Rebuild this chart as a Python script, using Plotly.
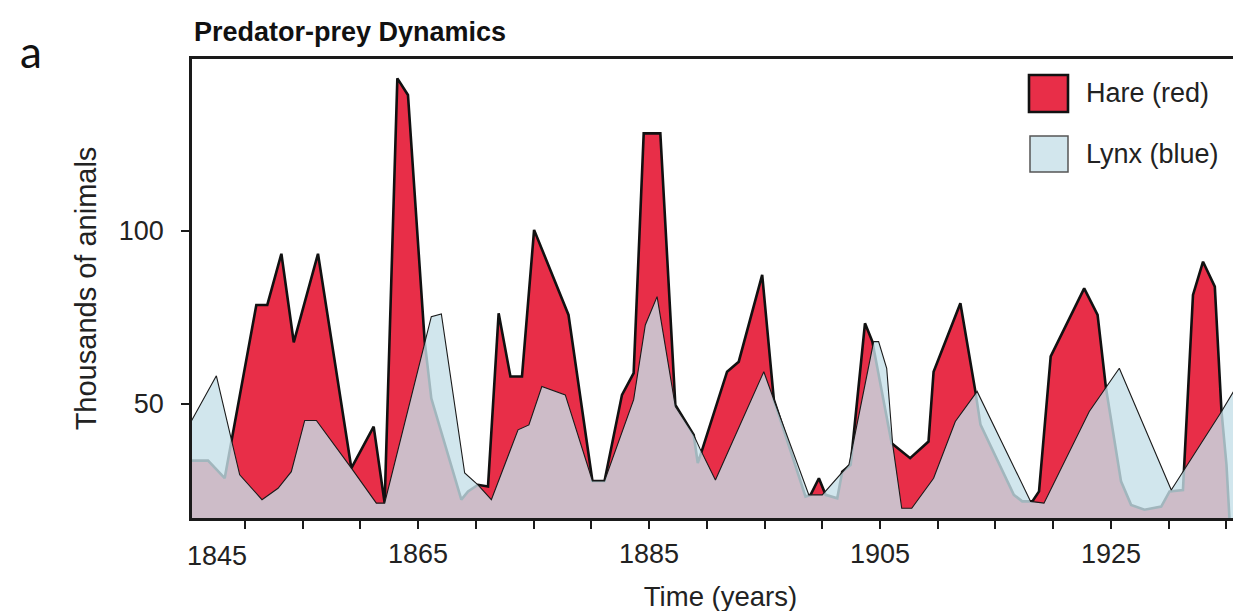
import plotly.graph_objects as go

# ---------------- data ----------------
hare_years = [1845.0, 1846.82, 1848.26, 1851.0, 1851.95, 1853.17, 1854.24, 1856.34,
              1859.23, 1861.16, 1862.11, 1863.21, 1864.13, 1865.58, 1866.15, 1868.75,
              1869.33, 1870.19, 1871.06, 1871.98, 1873.0, 1874.0, 1875.05, 1878.03,
              1880.1, 1881.15, 1882.66, 1883.67, 1884.54, 1885.98, 1887.28, 1888.87,
              1889.22, 1889.6, 1891.76, 1892.77, 1894.8, 1895.81, 1898.55, 1898.99,
              1899.71, 1900.29, 1901.3, 1901.73, 1902.46, 1903.7, 1904.34, 1906.01,
              1907.61, 1909.2, 1909.64, 1911.96, 1913.26, 1913.7, 1916.59, 1917.32,
              1918.19, 1918.77, 1919.78, 1922.68, 1923.84, 1924.57, 1925.87, 1926.74,
              1927.9, 1929.35, 1930.07, 1931.23, 1932.1, 1932.97, 1933.99, 1934.57,
              1935.0, 1935.29, 1937.5]
hare_values = [33.6, 33.6, 28.5, 78.6, 78.6, 93.4, 67.8, 93.4,
               31.4, 43.4, 21.3, 144.1, 139.3, 68.0, 51.6, 22.3,
               24.7, 26.6, 26.1, 76.2, 57.9, 57.9, 100.3, 75.7,
               27.7, 27.7, 52.6, 58.9, 128.2, 128.2, 49.7, 41.0,
               32.9, 36.7, 59.3, 62.2, 87.3, 51.2, 23.2, 23.7,
               28.5, 23.7, 22.7, 30.4, 32.4, 73.3, 68.0, 38.6,
               34.3, 39.1, 59.3, 79.1, 53.6, 44.0, 23.7, 21.8,
               21.8, 24.7, 63.7, 83.4, 75.7, 54.5, 27.6, 20.8,
               19.4, 20.3, 24.7, 25.1, 81.5, 91.1, 83.9, 47.8,
               32.4, 15.0, 15.0]

lynx_years = [1845.0, 1847.54, 1849.56, 1851.49, 1852.88, 1854.03, 1855.19, 1856.2,
              1859.23, 1861.39, 1862.11, 1866.15, 1867.02, 1869.04, 1870.19, 1871.35,
              1873.66, 1874.6, 1875.72, 1877.75, 1880.1, 1881.15, 1883.67, 1884.68,
              1885.7, 1887.28, 1888.87, 1889.39, 1890.75, 1894.94, 1895.81, 1898.84,
              1900.0, 1901.59, 1902.31, 1904.45, 1904.88, 1905.58, 1906.1, 1906.88,
              1907.75, 1909.64, 1911.52, 1913.41, 1918.04, 1919.2, 1923.12, 1925.72,
              1930.22, 1934.57, 1935.87, 1937.5]
lynx_values = [42.8, 58.1, 29.5, 22.3, 25.6, 30.4, 45.2, 45.2,
               31.4, 21.3, 21.3, 75.2, 76.0, 30.0, 26.6, 22.3,
               42.5, 43.9, 55.0, 52.6, 27.7, 27.7, 51.2, 72.8,
               81.0, 49.2, 41.0, 37.2, 28.0, 59.3, 51.2, 23.7,
               23.7, 29.5, 32.4, 68.0, 68.0, 60.3, 38.2, 19.8,
               19.8, 28.5, 44.9, 53.6, 21.8, 21.3, 47.8, 60.3,
               25.1, 47.8, 55.0, 47.7]

x_tick_years = list(range(1850, 1940, 5))
x_labelled_years = [1865, 1885, 1905, 1925]
x_tick_text = [str(y) if y in x_labelled_years else "" for y in x_tick_years]
first_label_text = "1845"
y_tick_values = [50, 100]
series_names = ["Hare (red)", "Lynx (blue)"]

# ---------------- styling / layout ----------------
W, H = 1241, 611
L, R, T, B = 184, 0, 51, 101
PW, PH = W - L - R, H - T - B


def px(x):
    return (x - L) / PW


def py(y):
    return (H - B - y) / PH


FONT = "Liberation Sans, Arial, Helvetica, sans-serif"
TXT = "#222222"
RED = "rgb(232,46,72)"
LYNX_FILL = "rgba(198,224,232,0.80)"
LYNX_SWATCH = "rgb(210,230,237)"

fig = go.Figure()
fig.add_trace(go.Scatter(
    x=hare_years, y=hare_values, mode="lines", name=series_names[0],
    fill="tozeroy", fillcolor=RED,
    line=dict(color="#111111", width=2.6), showlegend=False, hoverinfo="skip"))
fig.add_trace(go.Scatter(
    x=lynx_years, y=lynx_values, mode="lines", name=series_names[1],
    fill="tozeroy", fillcolor=LYNX_FILL,
    line=dict(color="#1a1a1a", width=1.1), showlegend=False, hoverinfo="skip"))

fig.update_layout(
    width=W, height=H,
    margin=dict(l=L, r=R, t=T, b=B, autoexpand=False),
    paper_bgcolor="white", plot_bgcolor="white",
    font=dict(family=FONT, size=27, color=TXT),
    showlegend=False,
)

fig.update_xaxes(
    range=[1845.43, 1936.95], showgrid=False, zeroline=False,
    showline=True, linecolor="#1a1a1a", linewidth=2.6, mirror=True,
    tickmode="array", tickvals=x_tick_years, ticktext=x_tick_text,
    ticks="outside", ticklen=8, tickwidth=2, tickcolor="#1a1a1a",
    ticklabelstandoff=2,
    tickfont=dict(family=FONT, size=27, color=TXT),
    title=dict(text="Time (years)", font=dict(family=FONT, size=27.5, color=TXT), standoff=19),
)
fig.update_yaxes(
    range=[17.0, 149.7], showgrid=False, zeroline=False,
    showline=True, linecolor="#1a1a1a", linewidth=2.6, mirror=True,
    tickmode="array", tickvals=y_tick_values, ticktext=[str(v) for v in y_tick_values],
    ticks="outside", ticklen=8, tickwidth=2, tickcolor="#1a1a1a",
    ticklabelstandoff=12,
    tickfont=dict(family=FONT, size=27, color=TXT),
    title=dict(text="Thousands of animals", font=dict(family=FONT, size=29, color=TXT), standoff=14),
)

annotations = [
    # shifted first x label
    dict(text=first_label_text, xref="x", x=1847.62, yref="paper", y=py(548),
         xanchor="center", yanchor="middle", showarrow=False,
         font=dict(family=FONT, size=27, color=TXT)),
    # chart title
    dict(text="<b>Predator-prey Dynamics</b>", xref="paper", x=px(184), yref="paper", y=py(41),
         xanchor="left", yanchor="bottom", showarrow=False,
         font=dict(family=FONT, size=27, color="#111111")),
    # panel letter
    dict(text="a", xref="paper", x=px(10), yref="paper", y=py(43),
         xanchor="left", yanchor="middle", showarrow=False,
         font=dict(family="Lato, Open Sans, sans-serif", size=44, color="#111111")),
    # legend labels
    dict(text=series_names[0], xref="paper", x=px(1076), yref="paper", y=py(85),
         xanchor="left", yanchor="middle", showarrow=False,
         font=dict(family=FONT, size=27, color=TXT)),
    dict(text=series_names[1], xref="paper", x=px(1076), yref="paper", y=py(146),
         xanchor="left", yanchor="middle", showarrow=False,
         font=dict(family=FONT, size=27, color=TXT)),
]
fig.update_layout(annotations=annotations)

fig.update_layout(shapes=[
    dict(type="rect", xref="paper", yref="paper",
         x0=px(1021), x1=px(1060), y0=py(104), y1=py(67),
         fillcolor=RED, line=dict(color="#111111", width=2.6), layer="above"),
    dict(type="rect", xref="paper", yref="paper",
         x0=px(1022), x1=px(1060), y0=py(164), y1=py(128),
         fillcolor=LYNX_SWATCH, line=dict(color="#555555", width=1.5), layer="above"),
])

fig.write_html("out.html")
